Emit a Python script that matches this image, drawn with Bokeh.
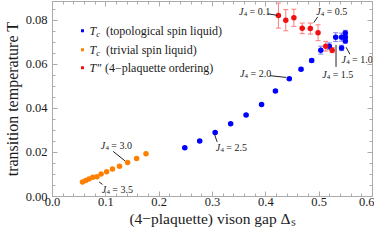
from bokeh.plotting import figure
from bokeh.models import (Range1d, FixedTicker, LinearAxis, Label, Whisker,
                          ColumnDataSource, TeeHead)
from bokeh.embed import file_html
from bokeh.resources import INLINE

# ---------------- data ----------------
topo_gap = [0.248, 0.276, 0.305, 0.334, 0.363, 0.392, 0.418, 0.444, 0.466, 0.486,
            0.503, 0.519, 0.531, 0.542, 0.542, 0.549, 0.549, 0.549]
topo_T = [0.0222, 0.0252, 0.0291, 0.0331, 0.0370, 0.0418, 0.0479, 0.0535, 0.0578, 0.0618,
          0.0665, 0.0683, 0.0724, 0.0675, 0.0724, 0.0743, 0.0724, 0.0707]
topo_err = [0.0003, 0.0003, 0.0004, 0.0004, 0.0004, 0.0005, 0.0005, 0.0005, 0.0006, 0.0008,
            0.0018, 0.0015, 0.0020, 0.0012, 0.0018, 0.0012, 0.0010, 0.0010]

triv_gap = [0.0562, 0.0622, 0.0683, 0.0756, 0.0834, 0.0912, 0.1015, 0.1124, 0.1256,
            0.1408, 0.1577, 0.1753]
triv_T = [0.0066, 0.0073, 0.0080, 0.0087, 0.0090, 0.0102, 0.0113, 0.0125, 0.0138,
          0.0155, 0.0173, 0.0194]

ord_gap = [0.4236, 0.4374, 0.4526, 0.4682, 0.4834, 0.4979, 0.5124, 0.5244]
ord_T = [0.0822, 0.0801, 0.0812, 0.0764, 0.0763, 0.0744, 0.0683, 0.0665]
ord_err = [0.0057, 0.0048, 0.0039, 0.0024, 0.0025, 0.0036, 0.0022, 0.0012]

x_ticks = [0.0, 0.1, 0.2, 0.3, 0.4, 0.5, 0.6]
x_tick_labels = ["0.0", "0.1", "0.2", "0.3", "0.4", "0.5", "0.6"]
x_minor = [i * 0.02 for i in range(31)]
y_ticks = [0.0, 0.02, 0.04, 0.06, 0.08]
y_tick_labels = ["0.00", "0.02", "0.04", "0.06", "0.08"]
y_minor = [i * 0.005 for i in range(18)]

x_title = "(4\u2212plaquette) vison gap \u0394\u209b"
y_title = "transition temperature T"
legend_names = ["(topological spin liquid)", "(trivial spin liquid)", "(4\u2212plaquette ordering)"]

# J4 annotations: value, text anchor (x, y), leader line (x0, y0, x1, y1)
ann_vals = ["0.1", "0.5", "2.0", "1.5", "1.0", "2.5", "3.0", "3.5"]
ann_x = [0.3498, 0.4943, 0.3516, 0.5057, 0.5420, 0.3063, 0.0906, 0.0924]
ann_y = [0.0839, 0.0839, 0.0561, 0.0555, 0.0621, 0.0224, 0.0232, 0.0034]
lead_x0 = [0.4042, 0.4972, 0.4078, 0.5316, 0.5505, 0.3040, 0.1137, 0.0875]
lead_y0 = [0.0830, 0.0816, 0.0549, 0.0689, 0.0678, 0.0281, 0.0205, 0.0066]
lead_x1 = [0.4218, 0.4899, 0.4381, 0.5316, 0.5577, 0.3087, 0.1359, 0.0937]
lead_y1 = [0.0823, 0.0790, 0.0541, 0.0589, 0.0646, 0.0248, 0.0162, 0.0055]

# ---------------- style ----------------
SERIF = "Liberation Serif"
FRAME = "#ababab"
TXT = "#1a1a1a"
BLUE = "#0000ff"
ORANGE = "#ff8000"
RED = "#f01010"

p = figure(width=374, height=229, output_backend="svg", toolbar_location=None,
           x_range=Range1d(0, 0.6), y_range=Range1d(0, 0.0886),
           x_axis_location=None, y_axis_location=None,
           min_border_left=49, min_border_right=2, min_border_top=1,
           min_border_bottom=20)
p.outline_line_color = None
p.background_fill_color = "white"
p.border_fill_color = "white"
for g in p.grid:
    g.visible = False


def make_axis(ticks, minor, labels, show, standoff=3, title=None):
    ax = LinearAxis(ticker=FixedTicker(ticks=ticks, minor_ticks=minor))
    ax.major_label_overrides = {t: (l if show else "") for t, l in zip(ticks, labels)}
    ax.axis_line_color = FRAME
    ax.major_tick_line_color = FRAME
    ax.minor_tick_line_color = FRAME
    ax.major_tick_in = 5
    ax.major_tick_out = 0
    ax.minor_tick_in = 3
    ax.minor_tick_out = 0
    ax.major_label_text_font = SERIF
    ax.major_label_text_color = TXT
    ax.major_label_text_font_size = "12.5px" if show else "0px"
    ax.major_label_standoff = standoff if show else 0
    if title:
        ax.axis_label = title
        ax.axis_label_text_font = SERIF
        ax.axis_label_text_font_style = "normal"
        ax.axis_label_text_color = TXT
    return ax


xb = make_axis(x_ticks, x_minor, x_tick_labels, True, standoff=1, title=x_title)
xb.axis_label_text_font_size = "15.5px"
xb.axis_label_standoff = 1
yl = make_axis(y_ticks, y_minor, y_tick_labels, True, standoff=5, title=y_title)
yl.axis_label_text_font_size = "16px"
yl.axis_label_standoff = 2
p.add_layout(xb, "below")
p.add_layout(yl, "left")
p.add_layout(make_axis(x_ticks, x_minor, x_tick_labels, False), "above")
p.add_layout(make_axis(y_ticks, y_minor, y_tick_labels, False), "right")


def put(x, y, text, size, style="normal", dx=0, dy=0, color=TXT):
    p.add_layout(Label(x=x, y=y, text=text, x_offset=dx, y_offset=dy,
                       text_font=SERIF, text_font_size=f"{size}px",
                       text_font_style=style, text_align="left",
                       text_baseline="middle", text_color=color))


# ---------------- error bars ----------------
src_t = ColumnDataSource(dict(x=topo_gap, lo=[t - e for t, e in zip(topo_T, topo_err)],
                              hi=[t + e for t, e in zip(topo_T, topo_err)]))
src_o = ColumnDataSource(dict(x=ord_gap, lo=[t - e for t, e in zip(ord_T, ord_err)],
                              hi=[t + e for t, e in zip(ord_T, ord_err)]))
for src, col in ((src_t, "#7a7aff"), (src_o, "#ff7a7a")):
    p.add_layout(Whisker(source=src, base="x", upper="hi", lower="lo",
                         line_color=col, line_width=1,
                         upper_head=TeeHead(size=5, line_color=col, line_width=1),
                         lower_head=TeeHead(size=5, line_color=col, line_width=1)))

# ---------------- points ----------------
p.scatter(topo_gap, topo_T, size=5.5, color=BLUE, line_color=None)
p.scatter(triv_gap, triv_T, size=5.5, color=ORANGE, line_color=None)
p.scatter(ord_gap, ord_T, size=5.5, color=RED, line_color=None)

# ---------------- annotations ----------------
p.segment(lead_x0, lead_y0, lead_x1, lead_y1, line_color="#222222", line_width=1)
for v, ax_, ay_ in zip(ann_vals, ann_x, ann_y):
    put(ax_, ay_, "J", 10, "italic")
    put(ax_, ay_, "4", 7, "normal", dx=4.6, dy=-2.5)
    put(ax_, ay_, "= " + v, 10, "normal", dx=10.5)

# ---------------- legend ----------------
leg_x = 0.0562
leg_y = [0.0753, 0.0667, 0.0585]
leg_cols = [BLUE, ORANGE, RED]
p.scatter([leg_x] * 3, leg_y, marker="square", size=3, color=leg_cols, line_color=None)
for i, (yy, name) in enumerate(zip(leg_y, legend_names)):
    put(leg_x, yy, "T", 12, "italic", dx=7)
    if i < 2:
        put(leg_x, yy, "c", 8.5, "italic", dx=13.8, dy=-3)
        put(leg_x, yy, name, 12, dx=23.5)
    else:
        put(leg_x, yy, "\u2033", 12, dx=14.5)
        put(leg_x, yy, name, 12, dx=22.5)

open("out.html", "w").write(file_html(p, INLINE))
